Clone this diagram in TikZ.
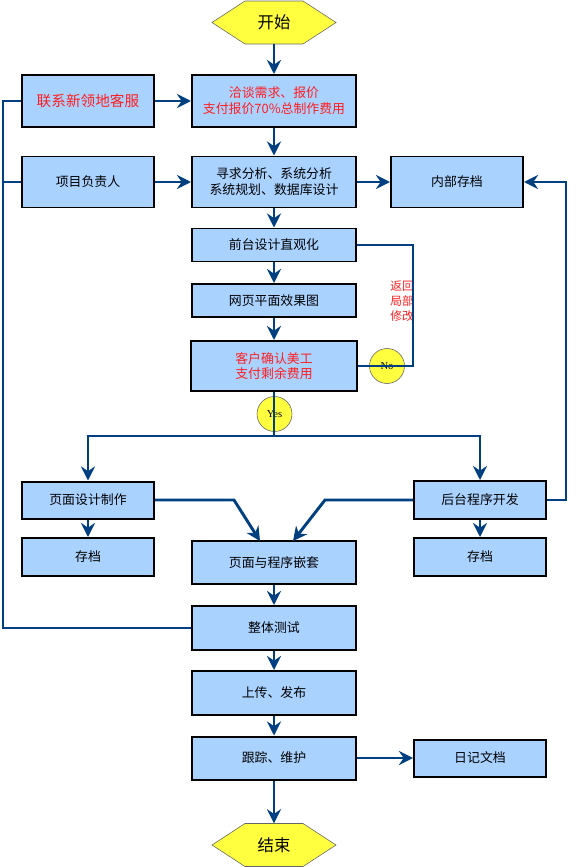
\documentclass[tikz,border=0pt]{standalone}
\usepackage{fontspec}
\setmainfont{Noto Sans CJK SC}
\newfontfamily\serifyn{Liberation Serif}
\usetikzlibrary{arrows.meta}
\definecolor{boxblue}{RGB}{170,210,255}
\definecolor{lineblue}{RGB}{0,64,128}
\definecolor{hexyellow}{RGB}{255,255,64}
\definecolor{notered}{RGB}{255,30,30}
\begin{document}
\begin{tikzpicture}[x=0.03cm,y=-0.03cm,
	main_box/.style={rectangle,draw=black,fill=boxblue,line width=1.7pt,inner sep=0pt,align=center,font=\fontsize{11}{13.5}\selectfont,minimum width=4.92cm},
	side_box/.style={main_box,minimum width=3.96cm},
	red_text/.style={text=notered},
	end_node/.style={rectangle,inner sep=0pt,minimum width=3.75cm,minimum height=1.29cm,font=\fontsize{14}{16}\selectfont},
	hex_line/.style={draw=black!60,fill=hexyellow,line width=0.5pt},
	yn_node/.style={circle,draw=black!60,fill=hexyellow,line width=0.5pt,minimum size=1.05cm,inner sep=0pt,font=\serifyn\fontsize{9}{10}\selectfont},
	link/.style={draw=lineblue,line width=2.5pt},
	arrow/.style={link,-{Stealth[length=12pt,width=12pt,inset=4pt]}}]
		
		\useasboundingbox (0,0) rectangle (577,867);
		
		% start and end hexagons
		\draw[hex_line] (212,22.5) -- (245,1) -- (303,1) -- (336,22.5) -- (303,44) -- (245,44) -- cycle;
		\draw[hex_line] (212,845) -- (245,823.5) -- (303,823.5) -- (336,845) -- (303,866.5) -- (245,866.5) -- cycle;
		
		\node[end_node] (start) at (274,22.5) {开始};
		\node[main_box,minimum height=1.56cm,red_text] (talk) at (274,101) {洽谈需求、报价\\支付报价70\%总制作费用};
		\node[side_box,minimum height=1.56cm,red_text,font=\fontsize{12.5}{15}\selectfont] (contact) at (88,101) {联系新领地客服};
		\node[side_box,minimum height=1.53cm] (leader) at (88,182) {项目负责人};
		\node[main_box,minimum height=1.53cm] (analysis) at (274,182) {寻求分析、系统分析\\系统规划、数据库设计};
		\node[side_box,minimum height=1.53cm] (archive) at (457,182) {内部存档};
		\node[main_box,minimum height=0.99cm] (front) at (274,245) {前台设计直观化};
		\node[main_box,minimum height=0.99cm] (effect) at (274,300.5) {网页平面效果图};
		\node[main_box,minimum width=4.98cm,minimum height=1.5cm,red_text] (confirm) at (274,366) {客户确认美工\\支付剩余费用};
		\node[yn_node] (no) at (387,366) {No};
		\node[yn_node] (yes) at (274.5,414) {Yes};
		\node[side_box,minimum height=1.11cm] (pagedesign) at (88,500) {页面设计制作};
		\node[side_box,minimum height=1.14cm] (store1) at (88,557) {存档};
		\node[side_box,minimum height=1.14cm] (backend) at (480,500) {后台程序开发};
		\node[side_box,minimum height=1.14cm] (store2) at (480,557) {存档};
		\node[main_box,minimum height=1.29cm] (embed) at (274,562.5) {页面与程序嵌套};
		\node[main_box,minimum height=1.32cm] (test) at (274,628) {整体测试};
		\node[main_box,minimum height=1.32cm] (upload) at (274,693) {上传、发布};
		\node[main_box,minimum height=1.29cm] (track) at (274,758) {跟踪、维护};
		\node[side_box,minimum height=1.11cm] (log) at (480,758) {日记文档};
		\node[end_node] (end) at (274,845) {结束};
		
		\begin{scope}
		\clip (380,270) rectangle (413,335);
		\node[red_text,align=center,inner sep=0pt,font=\fontsize{10}{12.75}\selectfont] (backnote) at (402,301) {返回\\局部\\修改};
		\end{scope}
		
		\coordinate (retx) at (413,300);
		\coordinate (split) at (274,436);
		\coordinate (lbend) at (234,500);
		\coordinate (lin) at (260,541);
		\coordinate (rbend) at (325,500);
		\coordinate (rin) at (293,541);
		\coordinate (busbot) at (3,628);
		\coordinate (rbus) at (566,300);
		
		\draw[arrow] (start) -- (talk);
		\draw[arrow] (contact) -- (talk);
		\draw[arrow] (talk) -- (analysis);
		\draw[arrow] (leader) -- (analysis);
		\draw[arrow] (analysis) -- (archive);
		\draw[arrow] (analysis) -- (front);
		\draw[arrow] (front) -- (effect);
		\draw[arrow] (effect) -- (confirm);
		\draw[link] (front.east) -| (retx) |- (confirm.east);
		\draw[link] (confirm.south) -- (split);
		\draw[arrow] (split) -| (pagedesign.north);
		\draw[arrow] (split) -| (backend.north);
		\draw[arrow] (pagedesign) -- (store1);
		\draw[arrow] (backend) -- (store2);
		\draw[arrow] (pagedesign.east) -- (lbend) -- (lin);
		\draw[arrow] (backend.west) -- (rbend) -- (rin);
		\draw[arrow] (embed) -- (test);
		\draw[arrow] (test) -- (upload);
		\draw[arrow] (upload) -- (track);
		\draw[arrow] (track) -- (log);
		\draw[arrow] (track) -- (end);
		\draw[link] (contact.west) -| (busbot) -- (test.west);
		\draw[link] (leader.west) -- (leader.west -| busbot);
		\draw[arrow] (backend.east) -| (rbus) |- (archive.east);
		\end{tikzpicture}
\end{document}
